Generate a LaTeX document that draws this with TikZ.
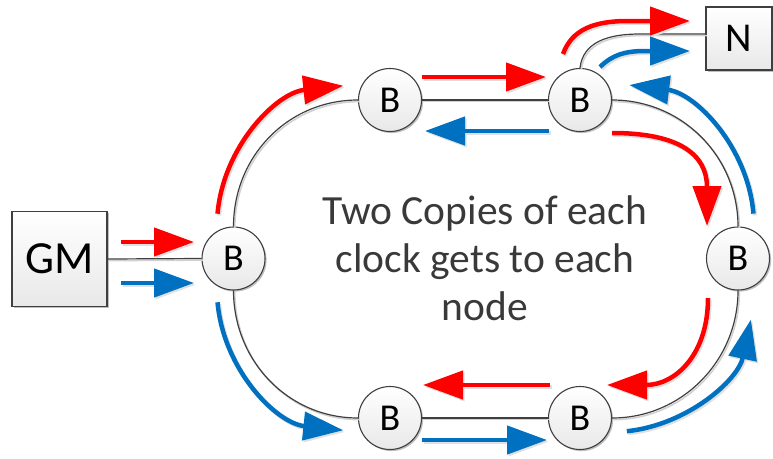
\documentclass[tikz,border=0pt]{standalone}
\usepackage{fontspec}
\setmainfont{Carlito}
\usetikzlibrary{arrows.meta,shadows}
\definecolor{sigred}{HTML}{FF0000}
\definecolor{sigblue}{HTML}{0070C0}
\definecolor{edgegray}{HTML}{3F3F3F}
\begin{document}
\begin{tikzpicture}[x=1pt,y=-1pt,
  softshadow/.style={drop shadow={shadow xshift=1.6pt,shadow yshift=-1.6pt,opacity=0.25,fill=black}},
  bnode/.style={circle,draw=edgegray,line width=1.1pt,minimum size=63pt,inner sep=0pt,
    top color=white,bottom color=black!9,softshadow,font=\fontsize{38}{38}\selectfont},
  boxnode/.style={rectangle,draw=edgegray,line width=1.1pt,inner sep=0pt,
    top color=white,bottom color=black!9,softshadow},
  link/.style={draw=edgegray,line width=1.2pt,
    preaction={draw=black!18,line width=1.6pt,transform canvas={shift={(1.3pt,-1.6pt)}}}},
  sig/.style={line width=4.5pt,-{Triangle[length=40pt,width=28pt]},
    preaction={draw=black!12,line width=4.5pt,transform canvas={shift={(1.5pt,-1.8pt)}}}},
  redsig/.style={sig,draw=sigred},
  bluesig/.style={sig,draw=sigblue},
]
\useasboundingbox (0,0) rectangle (773,458);

% ring of B nodes, the master and the end node
\node[boxnode,minimum width=95pt,minimum height=95pt,font=\fontsize{46}{46}\selectfont] (gm) at (59.5,259) {GM};
\node[boxnode,minimum width=66pt,minimum height=63pt,font=\fontsize{41}{41}\selectfont] (n) at (739,38.5) {N};
\node[bnode] (bl) at (233.5,258.5) {B};
\node[bnode] (bt1) at (390,100) {B};
\node[bnode] (bt2) at (580,100) {B};
\node[bnode] (br) at (738,258.5) {B};
\node[bnode] (bb1) at (390,418) {B};
\node[bnode] (bb2) at (580,418) {B};

% cabling
\draw[link] (gm.east) -- (bl.west);
\draw[link] (bl.north) .. controls +(0,-70) and +(-70,0) .. (bt1.west);
\draw[link] (bt1.east) -- (bt2.west);
\draw[link] (bt2.east) .. controls +(70,0) and +(0,-70) .. (br.north);
\draw[link] (br.south) .. controls +(0,70) and +(70,0) .. (bb2.east);
\draw[link] (bb2.west) -- (bb1.east);
\draw[link] (bb1.west) .. controls +(-70,0) and +(0,70) .. (bl.south);
\draw[link] (bt2.north) .. controls +(3,-26) and +(-32,0) .. (640,34) -- (n.west |- 0,34);

% clock copy travelling clockwise (red)
\draw[redsig] (121,242) -- (194,242);
\draw[redsig] ([shift={(185:141)}]358,226) arc[start angle=185,end angle=264,radius=141];
\draw[redsig] (422,77) -- (546,77);
\draw[redsig] (612,133) .. controls (680,133) and (707,155) .. (707,226);
\draw[redsig] (708,298) .. controls (708,355) and (675,385) .. (607,385);
\draw[redsig] (550,385) -- (423,385);
\draw[redsig] (563,54) .. controls (572,29) and (595,21) .. (628,21) -- (690,21);

% clock copy travelling counter-clockwise (blue)
\draw[bluesig] (121,283) -- (194,283);
\draw[bluesig] ([shift={(175:141)}]358,290) arc[start angle=175,end angle=96,radius=141];
\draw[bluesig] (422,440) -- (547,440);
\draw[bluesig] ([shift={(84:142)}]612,290) arc[start angle=84,end angle=12,radius=142];
\draw[bluesig] ([shift={(-5:142)}]612,226) arc[start angle=-5,end angle=-83,radius=142];
\draw[bluesig] (549,131) -- (425,131);
\draw[bluesig] (600,67) .. controls (612,55) and (625,51) .. (645,51) -- (690,51);

% caption inside the ring
\node[align=center,font=\fontsize{41.5}{48}\selectfont,text=edgegray!90!black] (caption) at (485,258)
  {Two Copies of each\\clock gets to each\\node};
\end{tikzpicture}
\end{document}
